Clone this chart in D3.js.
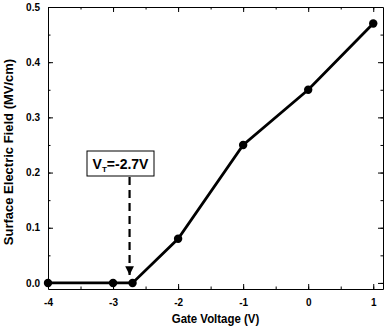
<!DOCTYPE html>
<html>
<head>
<meta charset="utf-8">
<title>Surface Electric Field vs Gate Voltage</title>
<style>
  body { margin: 0; background: #fff; }
  text { font-family: "Liberation Sans", Arial, sans-serif; font-weight: bold; fill: #000; }
  .tick text { font-size: 10px; }
  .domain { stroke: #000; stroke-width: 1px; }
</style>
<script src="https://d3js.org/d3.v7.min.js"></script>
</head>
<body>
<svg id="chart" width="388" height="328"></svg>
<script>
var gateVoltage = [-4, -3, -2.7, -2, -1, 0, 1];
var fieldValues = [0, 0, 0, 0.08, 0.25, 0.35, 0.47];
var xTicks = [-4, -3, -2, -1, 0, 1];
var yTicks = [0, 0.1, 0.2, 0.3, 0.4, 0.5];
var thresholdV = -2.7;

var svg = d3.select("#chart");
var mLeft = 48, mRight = 383, mTop = 7, mBottom = 289;

var x = d3.scaleLinear().domain([-4, 1.15]).range([mLeft, mRight]);
var y = d3.scaleLinear().domain([-0.011, 0.5]).range([mBottom, mTop]);

var xMinor = d3.range(-4, 1.2, 0.5);
var yMinor = d3.range(0, 0.51, 0.05);

// minor ticks, pointing in
function minor(axisFn, scale, vals, tr) {
  svg.append("g").attr("transform", tr)
    .call(axisFn(scale).tickValues(vals).tickSize(-2.5).tickFormat(""))
    .call(function(g) { g.select(".domain").remove(); });
}
minor(d3.axisBottom, x, xMinor, "translate(0," + mBottom + ")");
minor(d3.axisTop, x, xMinor, "translate(0," + mTop + ")");
minor(d3.axisLeft, y, yMinor, "translate(" + mLeft + ",0)");
minor(d3.axisRight, y, yMinor, "translate(" + mRight + ",0)");

// major axes (box all round)
svg.append("g").attr("transform", "translate(0," + mBottom + ")")
  .call(d3.axisBottom(x).tickValues(xTicks).tickSize(-5).tickSizeOuter(0).tickPadding(10)
    .tickFormat(function(d) { return String(d); }));
svg.append("g").attr("transform", "translate(0," + mTop + ")")
  .call(d3.axisTop(x).tickValues(xTicks).tickSize(-5).tickSizeOuter(0).tickFormat(""));
svg.append("g").attr("transform", "translate(" + mLeft + ",0)")
  .call(d3.axisLeft(y).tickValues(yTicks).tickSize(-5).tickSizeOuter(0).tickPadding(8)
    .tickFormat(function(d) { return d.toFixed(1); }));
svg.append("g").attr("transform", "translate(" + mRight + ",0)")
  .call(d3.axisRight(y).tickValues(yTicks).tickSize(-5).tickSizeOuter(0).tickFormat(""));

svg.selectAll(".tick line").attr("stroke", "#000");

// axis titles
svg.append("text").attr("transform", "translate(" + ((mLeft + mRight) / 2) + ",323) scale(0.88,1)")
  .attr("text-anchor", "middle").style("font-size", "13px").text("Gate Voltage (V)");
svg.append("text").attr("transform", "translate(13," + ((mTop + mBottom) / 2 + 4) + ") rotate(-90)")
  .attr("text-anchor", "middle").style("font-size", "13px").text("Surface Electric Field (MV/cm)");

// data line + markers
var pts = gateVoltage.map(function(v, i) { return [v, fieldValues[i]]; });
svg.append("path").datum(pts)
  .attr("fill", "none").attr("stroke", "#000").attr("stroke-width", 2.8)
  .attr("d", d3.line().x(function(d) { return x(d[0]); }).y(function(d) { return y(d[1]); }));
svg.selectAll("circle.pt").data(pts).enter().append("circle")
  .attr("class", "pt").attr("r", 4.2)
  .attr("cx", function(d) { return x(d[0]); }).attr("cy", function(d) { return y(d[1]); })
  .attr("fill", "#000");

// threshold annotation
var ax = x(thresholdV) - 3;
svg.append("defs").append("marker").attr("id", "arr")
  .attr("viewBox", "0 0 10 10").attr("refX", 10).attr("refY", 5)
  .attr("markerWidth", 4).attr("markerHeight", 4).attr("orient", "auto")
  .append("path").attr("d", "M0,0 L10,5 L0,10 z").attr("fill", "#000");
svg.append("line").attr("x1", ax).attr("x2", ax).attr("y1", 177).attr("y2", y(0) - 8)
  .attr("stroke", "#000").attr("stroke-width", 2.2).attr("stroke-dasharray", "8,5")
  .attr("marker-end", "url(#arr)");
svg.append("rect").attr("x", 87).attr("y", 151).attr("width", 67).attr("height", 25)
  .attr("fill", "#fff").attr("stroke", "#000").attr("stroke-width", 1);
var t = svg.append("text").attr("x", 120.5).attr("y", 169).attr("text-anchor", "middle").style("font-size", "14px");
t.append("tspan").text("V");
t.append("tspan").attr("dy", 3).style("font-size", "8px").text("T");
t.append("tspan").attr("dy", -3).text("=-2.7V");
</script>
</body>
</html>
